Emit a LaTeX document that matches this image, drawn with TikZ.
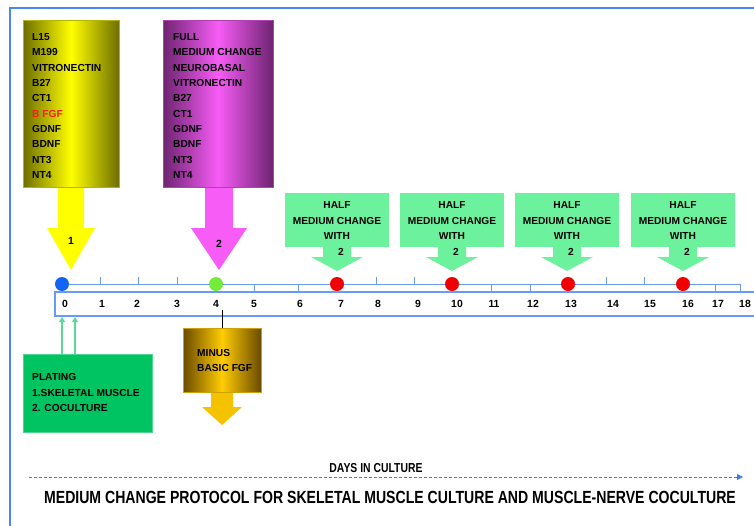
\documentclass[tikz,border=0pt]{standalone}
\usepackage{fontspec}
\setmainfont{Liberation Sans}
\newfontfamily\narrowfont[FakeStretch=0.8]{Liberation Sans}
\usetikzlibrary{arrows.meta}
\definecolor{frameblue}{HTML}{4A86F5}
\definecolor{tlblue}{HTML}{6A9AF8}
\definecolor{dashblue}{HTML}{3C7CF0}
\definecolor{olivedark}{HTML}{6E6E00}
\definecolor{ybright}{HTML}{FFFF00}
\definecolor{mdark}{HTML}{6E2470}
\definecolor{mbright}{HTML}{F75CF7}
\definecolor{gdark}{HTML}{6A4A00}
\definecolor{gbright}{HTML}{FFCC00}
\definecolor{garrow}{HTML}{F5C200}
\definecolor{mint}{HTML}{6CF29C}
\definecolor{platgreen}{HTML}{00C462}
\definecolor{arrgreen}{HTML}{5BD99A}
\definecolor{dotblue}{HTML}{1464F4}
\definecolor{dotgreen}{HTML}{74EC3C}
\definecolor{dotred}{HTML}{F00000}
\definecolor{fgfred}{HTML}{FF1A1A}
\begin{document}
\begin{tikzpicture}[x=1pt,y=-1pt,
  lbl/.style={font=\fontsize{10.2}{15.33}\selectfont\bfseries, inner sep=0pt, align=left, anchor=north west},
  ctext/.style={font=\fontsize{10.2}{15.5}\selectfont\bfseries, inner sep=0pt, align=center},
  daylbl/.style={font=\fontsize{10.4}{12}\selectfont\bfseries, inner sep=0pt},
  dotnode/.style={circle, minimum size=14pt, inner sep=0pt},
  tline/.style={tlblue, line width=0.9pt},
  upbox/.style={rectangle, inner sep=0pt, line width=0.4pt}
]
\useasboundingbox (0,0) rectangle (754,525);
% frame
\draw[frameblue, line width=1.6pt] (756,8) -- (10,8) -- (10,527);

% yellow callout
\fill[ybright] (58,180) -- (84,180) -- (84,228) -- (95,228) -- (71,270) -- (47,228) -- (58,228) -- cycle;
\node[upbox, draw=olivedark!50!ybright, left color=olivedark, right color=olivedark, middle color=ybright,
      minimum width=96pt, minimum height=167pt] (ybox) at (71,103.5) {};
\node[lbl] (ytext) at (32,33.4) {L15\\M199\\VITRONECTIN\\B27\\CT1\\\textcolor{fgfred}{B FGF}\\GDNF\\BDNF\\NT3\\NT4};
\node[daylbl] (n1) at (71,241) {1};

% magenta callout
\fill[mbright] (205,180) -- (233,180) -- (233,228) -- (247,228) -- (219,270) -- (191,228) -- (205,228) -- cycle;
\node[upbox, draw=mdark!50!mbright, left color=mdark, right color=mdark, middle color=mbright,
      minimum width=110pt, minimum height=167pt] (mbox) at (218,103.5) {};
\node[lbl] (mtext) at (173,33.4) {FULL\\MEDIUM CHANGE\\NEUROBASAL\\VITRONECTIN\\B27\\CT1\\GDNF\\BDNF\\NT3\\NT4};
\node[daylbl] (n2) at (219,244) {2};

% half medium change callouts
\foreach \c/\i in {337/1,452/2,567/3,683/4}{
  \fill[mint] (\c-52,193) rectangle (\c+52,247);
  \fill[mint] (\c-14,246) -- (\c+14,246) -- (\c+14,257) -- (\c+26,257) -- (\c,271) -- (\c-26,257) -- (\c-14,257) -- cycle;
  \node[ctext] (half\i) at (\c,228.5) {HALF\\MEDIUM CHANGE\\WITH\\\hspace*{8pt}2};
}

% timeline
\draw[tline] (62,284) -- (740,284) -- (740,292);
\foreach \x in {100,138,177,376,414,606,644}{ \draw[tline] (\x,284) -- (\x,277); }
\foreach \x in {254,298,491,530,715}{ \draw[tline] (\x,284) -- (\x,292); }
\draw[tlblue, line width=1.1pt] (756,292) -- (55,292) -- (55,316) -- (756,316);
\foreach \d/\x in {0/65,1/102,2/137,3/177,4/216,5/254,6/300,7/341,8/378,9/418,10/457,11/494,12/533,13/571,14/613,15/650,16/688,17/718,18/745}{
  \node[daylbl] (d\d) at (\x,304) {\d};
}
\node[dotnode, fill=dotblue] (dot0) at (62,284) {};
\node[dotnode, fill=dotgreen] (dot4) at (216,284) {};
\node[dotnode, fill=dotred] (dot7) at (337,284) {};
\node[dotnode, fill=dotred] (dot10) at (452,284) {};
\node[dotnode, fill=dotred] (dot13) at (568,284) {};
\node[dotnode, fill=dotred] (dot16) at (683,284) {};

% minus basic FGF
\fill[garrow] (211,390) -- (233,390) -- (233,407) -- (242,407) -- (222,425) -- (202,407) -- (211,407) -- cycle;
\node[upbox, draw=gbright!80!black, left color=gdark, right color=gdark, middle color=gbright,
      minimum width=78pt, minimum height=64pt] (minus) at (222,360) {};
\node[lbl, font=\fontsize{10.2}{15}\selectfont\bfseries] (minustxt) at (197,349.4) {MINUS\\BASIC FGF};
\coordinate (mark4) at (222,310);
\draw[black, line width=1pt] (mark4) -- (minus.north -| mark4);

% plating
\node[upbox, fill=platgreen, draw=platgreen!70!white, minimum width=129pt, minimum height=78pt] (plating) at (87.5,393) {};
\node[lbl, font=\fontsize{10.2}{15.5}\selectfont\bfseries] (plattxt) at (32,373.4) {PLATING\\1.SKELETAL MUSCLE\\2. COCULTURE};
\coordinate (pa) at (62,317);
\coordinate (pb) at (75,317);
\draw[arrgreen, line width=1.2pt, -{Triangle[length=5pt,width=6pt]}] (plating.north -| pa) -- (pa);
\draw[arrgreen, line width=1.2pt, -{Triangle[length=5pt,width=6pt]}] (plating.north -| pb) -- (pb);

% days in culture
\coordinate (dstart) at (29,477);
\coordinate (dend) at (743,477);
\draw[dashblue, line width=1pt, dash pattern=on 3pt off 2pt, -{Triangle[length=6pt,width=6pt]}] (dstart) -- (dend);
\node[font=\narrowfont\bfseries\fontsize{13}{15}\selectfont, inner sep=0pt] (days) at (376,468) {DAYS IN CULTURE};
\node[font=\narrowfont\bfseries\fontsize{17.6}{20}\selectfont, inner sep=0pt] (title) at (390,497) {MEDIUM CHANGE PROTOCOL FOR SKELETAL MUSCLE CULTURE AND MUSCLE-NERVE COCULTURE};
\end{tikzpicture}
\end{document}
